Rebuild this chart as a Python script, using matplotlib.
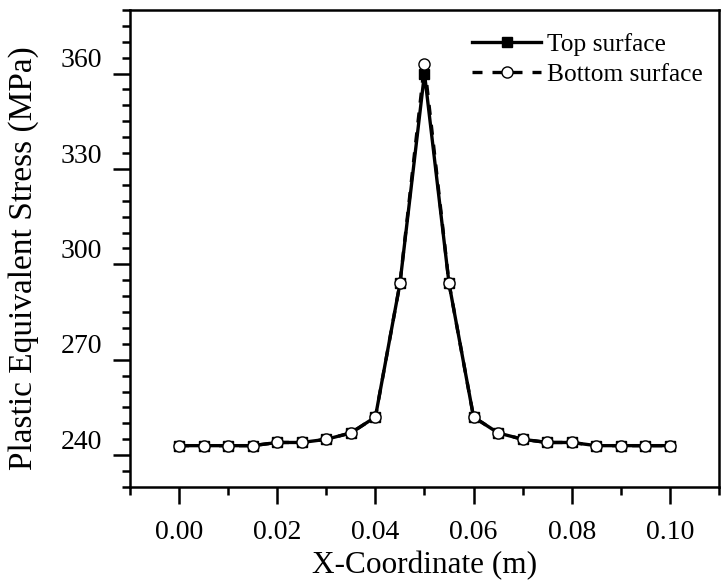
import matplotlib
matplotlib.use("Agg")
import matplotlib.pyplot as plt
from matplotlib.ticker import FixedLocator, MultipleLocator, FuncFormatter, NullFormatter

plt.rcParams['font.family'] = ['Liberation Serif', 'DejaVu Serif']

# Position along the specimen (m)
x_coord = [0.000, 0.005, 0.010, 0.015, 0.020, 0.025, 0.030, 0.035, 0.040, 0.045,
           0.050, 0.055, 0.060, 0.065, 0.070, 0.075, 0.080, 0.085, 0.090, 0.095, 0.100]

# Plastic equivalent stress (MPa)
top_surface = [238, 238, 238, 238, 239, 239, 240, 242, 247, 289,
               355, 289, 247, 242, 240, 239, 239, 238, 238, 238, 238]
bottom_surface = [238, 238, 238, 238, 239, 239, 240, 242, 247, 289,
                  358, 289, 247, 242, 240, 239, 239, 238, 238, 238, 238]

y_labels = [240, 270, 300, 330, 360]
x_ticks = [0.00, 0.02, 0.04, 0.06, 0.08, 0.10]

fig = plt.figure(figsize=(7.21, 5.84), dpi=100)
ax = fig.add_axes([0.1803, 0.1661, 0.8169, 0.8168])

ax.plot(x_coord, top_surface, color='black', lw=2.4, ls='-',
        marker='s', ms=7.5, mfc='black', mec='black', label='Top surface', zorder=3)
ax.plot(x_coord, bottom_surface, color='black', lw=2.4, ls=(0, (3.0, 3.0)),
        marker='o', ms=8, mfc='white', mec='black', mew=1.0,
        label='Bottom surface', zorder=4)

ax.set_xlim(-0.01, 0.11)
ax.set_ylim(225, 375)

ax.xaxis.set_major_locator(FixedLocator(x_ticks))
ax.xaxis.set_major_formatter(FuncFormatter(lambda v, p: f"{v:.2f}"))
ax.xaxis.set_minor_locator(MultipleLocator(0.01))

# long ticks sit half a step below the labelled values
ax.yaxis.set_major_locator(FixedLocator([v - 5 for v in y_labels]))
ax.yaxis.set_major_formatter(NullFormatter())
ax.yaxis.set_minor_locator(MultipleLocator(5))
ax.yaxis.set_minor_formatter(FuncFormatter(
    lambda v, p: f"{int(round(v))}" if int(round(v)) in y_labels else ""))

ax.tick_params(axis='both', which='major', direction='out', length=12, width=1.8,
               labelsize=20, top=False, right=False)
ax.tick_params(axis='both', which='minor', direction='out', length=6, width=1.8,
               labelsize=20, top=False, right=False)
ax.tick_params(axis='x', which='major', pad=12)
ax.tick_params(axis='y', which='minor', pad=14)

for s in ax.spines.values():
    s.set_linewidth(1.8)

ax.set_xlabel('X-Coordinate (m)', fontsize=22.5, labelpad=4)
ax.set_ylabel('Plastic Equivalent Stress (MPa)', fontsize=24)
ax.yaxis.set_label_coords(-0.155, 0.48)

leg = ax.legend(loc='upper right', bbox_to_anchor=(0.99, 0.974), frameon=False,
                fontsize=18.3, handlelength=2.7, handletextpad=0.25,
                borderaxespad=0.0, labelspacing=0.3)

fig.savefig('out.png', dpi=100)
